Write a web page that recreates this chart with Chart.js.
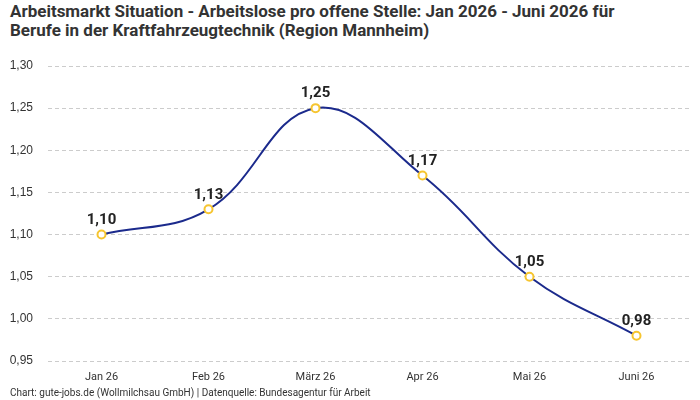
<!DOCTYPE html>
<html>
<head>
<meta charset="utf-8">
<script src="https://cdn.jsdelivr.net/npm/chart.js@4"></script>
<style>
  html, body { margin: 0; padding: 0; background: #fff; }
  #wrap { position: relative; width: 700px; height: 400px; }
  h1 { position: absolute; left: 10px; top: 2px; margin: 0; font: bold 17px Roboto, sans-serif; line-height: 19px; color: #333; }
  #src { position: absolute; left: 10px; top: 387px; font: 10px Roboto, sans-serif; color: #333; }
  #cv { position: absolute; left: 0; top: 48px; }
</style>
</head>
<body>
<div id="wrap">
  <h1>Arbeitsmarkt Situation - Arbeitslose pro offene Stelle: Jan 2026 - Juni 2026 für<br>Berufe in der Kraftfahrzeugtechnik (Region Mannheim)</h1>
  <canvas id="cv" width="700" height="340"></canvas>
  <div id="src">Chart: gute-jobs.de (Wollmilchsau GmbH) | Datenquelle: Bundesagentur für Arbeit</div>
</div>
<script>
const monate = ['Jan 26', 'Feb 26', 'März 26', 'Apr 26', 'Mai 26', 'Juni 26'];
const quote = [1.10, 1.13, 1.25, 1.17, 1.05, 0.98];

const fmt = (v) => v.toFixed(2).replace('.', ',');

// Werte über die Punkte schreiben
const wertLabels = {
  id: 'wertLabels',
  afterDatasetsDraw(chart) {
    const ctx = chart.ctx;
    const meta = chart.getDatasetMeta(0);
    ctx.save();
    ctx.font = 'bold 15px Roboto, sans-serif';
    ctx.fillStyle = '#222';
    ctx.textAlign = 'center';
    ctx.textBaseline = 'bottom';
    meta.data.forEach((pt, i) => {
      ctx.fillText(fmt(quote[i]), pt.x, pt.y - 7);
    });
    ctx.restore();
  }
};

new Chart(document.getElementById('cv'), {
  type: 'line',
  data: {
    labels: monate,
    datasets: [{
      data: quote,
      borderColor: '#1b2a8c',
      borderWidth: 2,
      tension: 0.4,
      pointRadius: 4,
      pointBorderWidth: 2,
      pointBackgroundColor: '#fff',
      pointBorderColor: '#f6c530'
    }]
  },
  options: {
    responsive: false,
    animation: false,
    layout: { padding: { left: 10, right: 10, top: 18, bottom: 3 } },
    plugins: { legend: { display: false }, tooltip: { enabled: false } },
    scales: {
      x: {
        offset: true,
        grid: { display: false },
        border: { display: false },
        ticks: { color: '#333', font: { family: 'Roboto', size: 11 }, padding: 2, maxRotation: 0 },
        afterFit: (s) => { s.height = 24; }
      },
      y: {
        min: 0.95,
        max: 1.30,
        grid: { color: '#ccc', drawTicks: false },
        border: { display: false, dash: [4, 3] },
        ticks: {
          stepSize: 0.05,
          color: '#333',
          font: { family: 'Liberation Sans', size: 12 },
          padding: 15,
          callback: (v) => fmt(v)
        },
        afterFit: (s) => { s.width = 38; s.paddingTop = 0; s.paddingBottom = 0; }
      }
    }
  },
  plugins: [wertLabels]
});
</script>
</body>
</html>
